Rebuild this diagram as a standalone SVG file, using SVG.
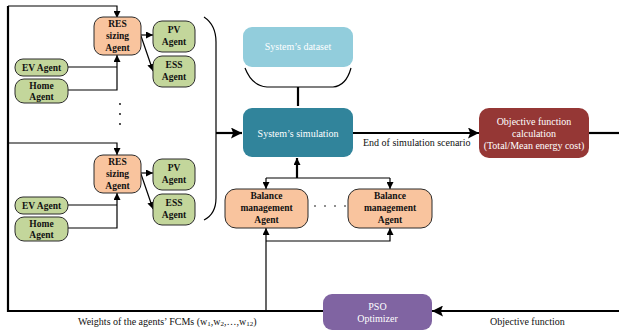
<svg xmlns="http://www.w3.org/2000/svg" width="619" height="333" viewBox="0 0 619 333">
  <defs>
    <marker id="arr" viewBox="0 0 10 10" refX="10" refY="5" markerWidth="7" markerHeight="7" markerUnits="userSpaceOnUse" orient="auto">
      <path d="M0,0 L10,5 L0,10 z" fill="#000"/>
    </marker>
    <marker id="arrBig" viewBox="0 0 10 10" refX="10" refY="5" markerWidth="11" markerHeight="11" markerUnits="userSpaceOnUse" orient="auto">
      <path d="M0,0 L10,5 L0,10 L2,5 z" fill="#000"/>
    </marker>
    <style>
      .agent { stroke: #2b2b2b; stroke-width: 1; }
      .orange { fill: #F9C49E; }
      .green { fill: #C3D69B; }
      .lbl { font-family: "Liberation Serif", "Times New Roman", serif; font-size: 9.5px; font-weight: bold; fill: #111; text-anchor: middle; }
      .wlbl { font-family: "Liberation Serif", "Times New Roman", serif; font-size: 10px; fill: #fff; text-anchor: middle; }
      .cap { font-family: "Liberation Serif", "Times New Roman", serif; font-size: 10px; fill: #111; }
      .ln { fill: none; stroke: #000; stroke-width: 1.2; }
      .thick { fill: none; stroke: #000; stroke-width: 2.2; }
      .dot { fill: #000; }
    </style>
  </defs>

  <!-- connectors -->
  <g id="connectors">
    <!-- feedback loop: PSO weights back to the sizing agents -->
    <path class="thick" d="M323,311 L8,311 L8,6"/>
    <path class="ln" d="M8,6 L117,6 L117,18" marker-end="url(#arr)"/>
    <path class="ln" d="M8,143 L117,143 L117,155" marker-end="url(#arr)"/>
    <!-- group 1 inputs -->
    <path class="ln" d="M68,67 L117,67"/>
    <path class="ln" d="M68,90 L117,90 L117,55" marker-end="url(#arr)"/>
    <path class="ln" d="M141,35 L153,35" marker-end="url(#arr)"/>
    <path class="ln" d="M141,36 L153,71" marker-end="url(#arr)"/>
    <!-- group 2 inputs -->
    <path class="ln" d="M68,205 L117,205"/>
    <path class="ln" d="M68,228 L117,228 L117,193" marker-end="url(#arr)"/>
    <path class="ln" d="M141,173 L153,173" marker-end="url(#arr)"/>
    <path class="ln" d="M141,174 L153,209" marker-end="url(#arr)"/>
    <!-- big bracket grouping all sizing agents -->
    <path class="ln" d="M204,17 Q216,25 216,42 L216,198 Q216,214 204,220"/>
    <path class="thick" d="M216,133 L242,133" marker-end="url(#arrBig)"/>
    <!-- dataset feeding the simulation -->
    <path class="ln" d="M245,68 Q252,86 267,87 L333,87 Q346,86 351,68"/>
    <path class="thick" d="M298,87 L298,106"/>
    <!-- simulation to objective -->
    <path class="thick" d="M353,133 L479,133" marker-end="url(#arrBig)"/>
    <path class="thick" d="M589,133 L619,133"/>
    <!-- objective back to PSO -->
    <path class="thick" d="M619,311 L432,311" marker-end="url(#arrBig)"/>
    <!-- balance agents to simulation -->
    <path class="thick" d="M297,178 L297,158" marker-end="url(#arr)"/>
    <path class="ln" d="M266,178 L390,178"/>
    <path class="ln" d="M266,178 L266,189" marker-end="url(#arr)"/>
    <path class="ln" d="M390,178 L390,189" marker-end="url(#arr)"/>
    <!-- weights into balance agents -->
    <path class="ln" d="M266,311 L266,228" marker-end="url(#arr)"/>
    <path class="ln" d="M266,241 L390,241 L390,228" marker-end="url(#arr)"/>
  </g>

  <!-- vertical ellipsis between agent groups -->
  <g id="ellipsis-v">
    <circle class="dot" cx="120" cy="104" r="0.9"/>
    <circle class="dot" cx="120" cy="114" r="0.9"/>
    <circle class="dot" cx="120" cy="124" r="0.9"/>
  </g>
  <!-- horizontal ellipsis between balance agents -->
  <g id="ellipsis-h">
    <circle class="dot" cx="315" cy="206" r="0.8"/>
    <circle class="dot" cx="325" cy="206" r="0.8"/>
    <circle class="dot" cx="335" cy="206" r="0.8"/>
    <circle class="dot" cx="345" cy="206" r="0.8"/>
  </g>

  <!-- group 1 -->
  <g id="res-sizing-1">
    <rect class="agent orange" x="94" y="17" width="47" height="38" rx="9"/>
    <text class="lbl" x="117.5" y="27">RES</text>
    <text class="lbl" x="117.5" y="39">sizing</text>
    <text class="lbl" x="117.5" y="51">Agent</text>
  </g>
  <g id="pv-1">
    <rect class="agent green" x="153" y="21" width="42" height="31" rx="9"/>
    <text class="lbl" x="174" y="33">PV</text>
    <text class="lbl" x="174" y="45">Agent</text>
  </g>
  <g id="ess-1">
    <rect class="agent green" x="153" y="56" width="42" height="31" rx="9"/>
    <text class="lbl" x="174" y="68">ESS</text>
    <text class="lbl" x="174" y="80">Agent</text>
  </g>
  <g id="ev-1">
    <rect class="agent green" x="15" y="59" width="53" height="17" rx="8"/>
    <text class="lbl" x="41.5" y="71">EV Agent</text>
  </g>
  <g id="home-1">
    <rect class="agent green" x="15" y="79" width="53" height="24" rx="9"/>
    <text class="lbl" x="41.5" y="89">Home</text>
    <text class="lbl" x="41.5" y="100">Agent</text>
  </g>

  <!-- group 2 -->
  <g id="res-sizing-2">
    <rect class="agent orange" x="94" y="155" width="47" height="38" rx="9"/>
    <text class="lbl" x="117.5" y="165">RES</text>
    <text class="lbl" x="117.5" y="177">sizing</text>
    <text class="lbl" x="117.5" y="189">Agent</text>
  </g>
  <g id="pv-2">
    <rect class="agent green" x="153" y="159" width="42" height="31" rx="9"/>
    <text class="lbl" x="174" y="171">PV</text>
    <text class="lbl" x="174" y="183">Agent</text>
  </g>
  <g id="ess-2">
    <rect class="agent green" x="153" y="194" width="42" height="31" rx="9"/>
    <text class="lbl" x="174" y="206">ESS</text>
    <text class="lbl" x="174" y="218">Agent</text>
  </g>
  <g id="ev-2">
    <rect class="agent green" x="15" y="197" width="53" height="17" rx="8"/>
    <text class="lbl" x="41.5" y="209">EV Agent</text>
  </g>
  <g id="home-2">
    <rect class="agent green" x="15" y="217" width="53" height="24" rx="9"/>
    <text class="lbl" x="41.5" y="227">Home</text>
    <text class="lbl" x="41.5" y="238">Agent</text>
  </g>

  <!-- central blocks -->
  <g id="dataset">
    <rect x="243" y="27" width="110" height="40" rx="9" fill="#92CDDC"/>
    <text class="wlbl" x="298" y="50">System’s dataset</text>
  </g>
  <g id="simulation">
    <rect x="243" y="108" width="110" height="49" rx="9" fill="#31849B"/>
    <text class="wlbl" x="298" y="137">System’s simulation</text>
  </g>
  <g id="objective">
    <rect x="479" y="108" width="110" height="50" rx="10" fill="#953735"/>
    <text class="wlbl" x="534" y="125">Objective function</text>
    <text class="wlbl" x="534" y="137">calculation</text>
    <text class="wlbl" x="534" y="149">(Total/Mean energy cost)</text>
  </g>
  <g id="balance-1">
    <rect class="agent orange" x="225" y="189" width="83" height="39" rx="11"/>
    <text class="lbl" x="266.5" y="199">Balance</text>
    <text class="lbl" x="266.5" y="211">management</text>
    <text class="lbl" x="266.5" y="223">Agent</text>
  </g>
  <g id="balance-2">
    <rect class="agent orange" x="348" y="189" width="84" height="39" rx="11"/>
    <text class="lbl" x="390" y="199">Balance</text>
    <text class="lbl" x="390" y="211">management</text>
    <text class="lbl" x="390" y="223">Agent</text>
  </g>
  <g id="pso">
    <rect x="323" y="294" width="109" height="36" rx="9" fill="#8064A2"/>
    <text class="wlbl" x="377.5" y="310">PSO</text>
    <text class="wlbl" x="377.5" y="322">Optimizer</text>
  </g>

  <!-- connector labels -->
  <g id="labels">
    <text class="cap" x="363" y="146">End of simulation scenario</text>
    <text class="cap" x="490" y="325">Objective function</text>
    <text class="cap" x="78" y="325">Weights of the agents’ FCMs (w<tspan font-size="7" dy="1">1</tspan><tspan dy="-1">,w</tspan><tspan font-size="7" dy="1">2</tspan><tspan dy="-1">,…,w</tspan><tspan font-size="7" dy="1">12</tspan><tspan dy="-1">)</tspan></text>
  </g>
</svg>
